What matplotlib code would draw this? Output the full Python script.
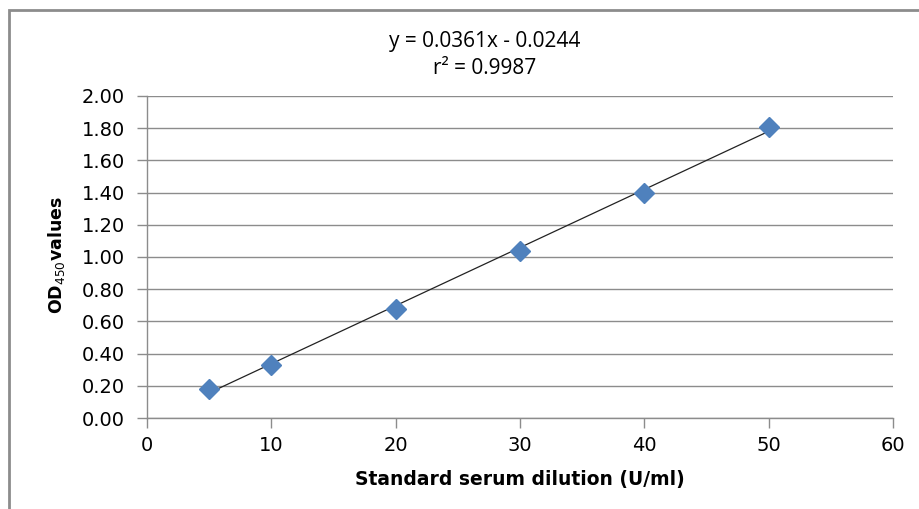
import matplotlib.pyplot as plt
from matplotlib.patches import Rectangle
import numpy as np

# standard curve data
dilution = [5, 10, 20, 30, 40, 50]
od450 = [0.18, 0.33, 0.68, 1.04, 1.40, 1.81]
slope = 0.0361
intercept = -0.0244
r2 = 0.9987

x_ticks = [0, 10, 20, 30, 40, 50, 60]
y_ticks = [0.0, 0.2, 0.4, 0.6, 0.8, 1.0, 1.2, 1.4, 1.6, 1.8, 2.0]

fig = plt.figure(figsize=(9.2, 5.09), dpi=100)
W, H = 920, 509

# chart frame (Excel style), runs off right/bottom edges
fig.patches.append(Rectangle((9 / W, -0.1), 1.2, 1 - 10 / H + 0.1,
                             transform=fig.transFigure, fill=False,
                             edgecolor='#8c8c8c', linewidth=2))

ax = fig.add_axes([147 / W, 1 - 418 / H, (893 - 147) / W, (418 - 96) / H])
ax.set_xlim(0, 60)
ax.set_ylim(0, 2.0)
ax.set_xticks(x_ticks)
ax.set_yticks(y_ticks)
ax.set_yticklabels(['%.2f' % v for v in y_ticks])
ax.grid(axis='y', color='#8c8c8c', linewidth=1)
ax.set_axisbelow(True)

for s in ['top', 'right']:
    ax.spines[s].set_visible(False)
for s in ['left', 'bottom']:
    ax.spines[s].set_color('#8c8c8c')
    ax.spines[s].set_linewidth(1)
ax.tick_params(colors='#8c8c8c', length=7, width=1, labelcolor='black',
               labelsize=14)
ax.tick_params(axis='x', pad=6)
ax.tick_params(axis='y', pad=9)

# trendline over data range
xs = np.array([dilution[0], dilution[-1]])
ax.plot(xs, slope * xs + intercept, color='#222222', linewidth=0.9, zorder=3)
ax.plot(dilution, od450, linestyle='none', marker='D', markersize=10,
        color='#4f81bd', markeredgecolor='#4f81bd', zorder=4, clip_on=False)

ax.set_xlabel('Standard serum dilution (U/ml)', fontsize=13.5, fontweight='bold',
              labelpad=11)
ax.set_ylabel('OD$_{450}$values', fontsize=12.5, fontweight='bold',
              va='center')
ax.yaxis.set_label_coords((57 - 147) / 746, (418 - 255) / 322)

fig.text(485 / W, 1 - 42 / H, 'y = %.4fx - %.4f' % (slope, -intercept),
         ha='center', va='center', fontsize=15, family='Open Sans')
fig.text(485 / W, 1 - 68 / H, 'r\u00b2 = %.4f' % r2,
         ha='center', va='center', fontsize=15, family='Open Sans')

fig.savefig('out.png', dpi=100)
